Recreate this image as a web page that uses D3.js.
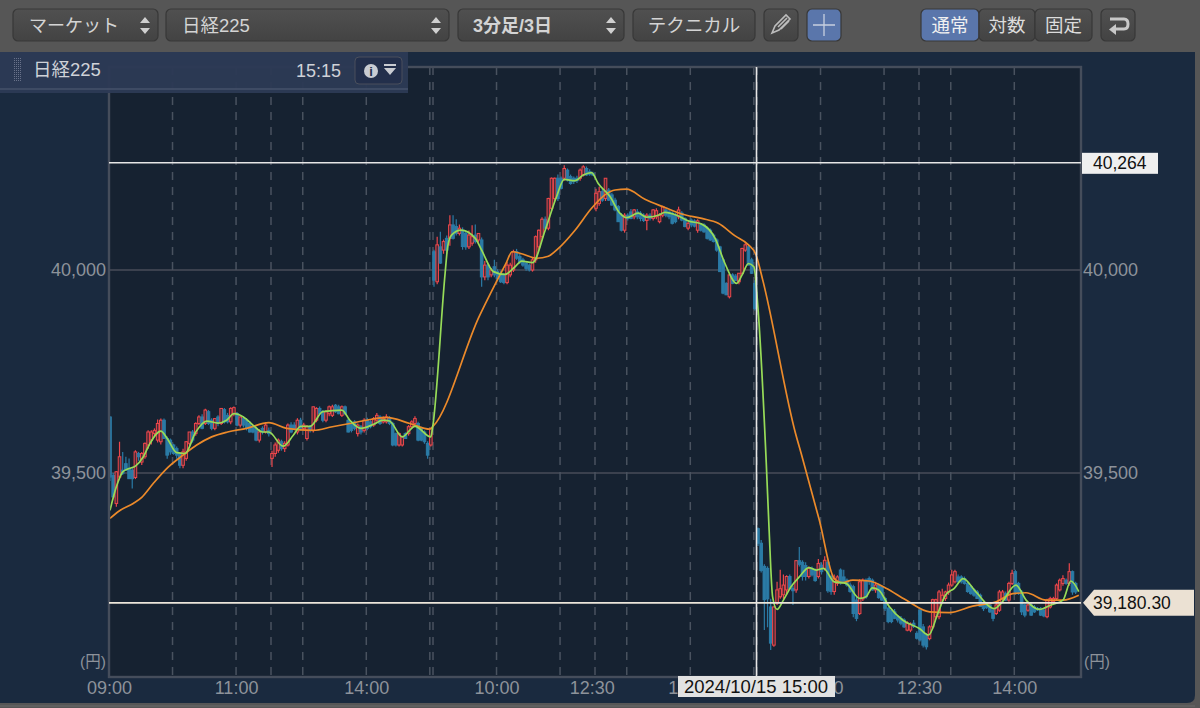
<!DOCTYPE html>
<html>
  <head>
    <meta charset="utf-8">
    <title>日経225</title>
    <script src="https://d3js.org/d3.v7.min.js"></script>
    <style>
      html, body { margin: 0; padding: 0; background: #565656; overflow: hidden; }
      svg { display: block; }
      text { font-family: "Liberation Sans", "Noto Sans CJK JP", sans-serif; }
      .tick line, .domain { display: none; }
    </style>
  </head>
  <body>
    <svg id="canvas" width="1200" height="708"></svg>
    <script>
      // candles, one row per 3 minute bar: open, high, low, close
      const day1 = [
        [39638,39640,39480,39490],[39494,39500,39440,39441],[39425,39505,39417,39503],[39490,39577,39486,39540],
        [39507,39552,39495,39499],[39523,39540,39505,39507],[39511,39536,39485,39486],[39507,39515,39462,39486],
        [39489,39556,39485,39552],[39548,39552,39530,39540],[39527,39552,39520,39548],[39540,39575,39535,39573],
        [39569,39605,39560,39601],[39581,39605,39570,39601],[39597,39610,39590,39605],[39581,39632,39575,39622],
        [39577,39634,39570,39630],[39630,39634,39585,39585],[39585,39590,39535,39544],[39581,39585,39545,39552],
        [39569,39572,39545,39548],[39560,39565,39535,39544],[39548,39552,39512,39519],[39519,39560,39512,39552],
        [39536,39578,39530,39577],[39573,39600,39568,39601],[39601,39606,39575,39581],[39597,39625,39592,39622],
        [39622,39642,39618,39638],[39638,39645,39608,39610],[39622,39658,39618,39655],[39651,39655,39618,39622],
        [39630,39635,39605,39610],[39610,39635,39605,39634],[39638,39642,39615,39622],[39622,39660,39618,39659],
        [39656,39660,39622,39626],[39642,39648,39622,39626],[39626,39662,39620,39659],[39646,39664,39640,39661],
        [39646,39650,39615,39618],[39618,39640,39612,39638],[39634,39640,39612,39618],[39630,39635,39605,39610],
        [39622,39628,39600,39601],[39614,39618,39598,39601],[39610,39614,39578,39581],[39581,39608,39575,39601],
        [39610,39615,39595,39601],[39601,39625,39597,39618],[39605,39612,39590,39597],[39536,39555,39515,39548],
        [39548,39575,39540,39569],[39556,39585,39550,39581],[39577,39582,39555,39560],[39560,39578,39552,39573],
        [39569,39622,39565,39618],[39618,39625,39598,39601],[39618,39625,39605,39610],[39601,39635,39595,39630],
        [39630,39636,39605,39610],[39610,39624,39605,39618],[39585,39618,39580,39614],[39614,39618,39600,39605],
        [39605,39664,39600,39663],[39630,39662,39625,39659],[39659,39664,39645,39646],[39651,39655,39625,39630],
        [39630,39655,39625,39651],[39646,39666,39640,39663],[39642,39668,39638,39663],[39667,39670,39648,39651],
        [39663,39668,39645,39646],[39642,39666,39638,39663],[39663,39666,39642,39646],[39630,39634,39600,39601],
        [39622,39626,39600,39605],[39626,39630,39605,39610],[39597,39622,39590,39618],[39614,39618,39595,39601],
        [39605,39635,39600,39630],[39630,39636,39605,39610],[39626,39630,39610,39614],[39618,39638,39614,39634],
        [39630,39648,39626,39642],[39638,39642,39618,39622],[39626,39640,39622,39634],[39626,39645,39622,39638],
        [39634,39640,39618,39622],[39622,39626,39566,39569],[39597,39600,39565,39569],[39569,39600,39565,39597],
        [39569,39592,39565,39589],[39597,39600,39585,39585],[39597,39618,39592,39614],[39614,39630,39610,39626],
        [39622,39640,39618,39634],[39622,39626,39578,39581],[39610,39614,39578,39581],[39601,39605,39572,39577],
        [39573,39578,39535,39544],[39569,39610,39565,39610]
      ];
      const day2 = [
        [40045,40050,39959,39975],[39971,40082,39965,40062],[40057,40094,40015,40017],[40049,40075,40040,40070],
        [40078,40085,40040,40049],[40078,40135,40060,40111],[40111,40135,40075,40078],[40107,40125,40085,40090],
        [40090,40112,40085,40103],[40098,40105,40050,40058],[40090,40095,40050,40057],[40057,40097,40052,40086],
        [40066,40110,40060,40082],[40086,40112,40065,40070],[40074,40090,40068,40090],[40074,40080,39959,39983],
        [39983,40022,39975,40012],[40012,40018,39975,39983],[39988,40005,39982,40000],[40008,40025,39982,39988],
        [39996,40002,39975,39979],[39992,39998,39968,39971],[39988,39992,39965,39969],[39969,40020,39965,40012],
        [39988,40018,39982,40012],[40000,40050,39995,40045],[40045,40052,40025,40029],[40033,40040,40015,40020],
        [40025,40030,40008,40012],[40016,40020,39998,40004],[40012,40016,39996,40000],[40000,40030,39996,40025],
        [40025,40085,40018,40082],[40057,40100,40050,40098],[40082,40130,40075,40125],[40125,40132,40100,40103],
        [40103,40178,40098,40176],[40152,40228,40145,40226],[40176,40228,40170,40226],[40226,40235,40170,40176],
        [40226,40230,40198,40201],[40226,40258,40220,40250],[40246,40250,40218,40222],[40230,40235,40210,40213],
        [40226,40230,40212,40218],[40226,40232,40214,40220],[40226,40250,40220,40246],[40234,40258,40230,40254],
        [40250,40255,40232,40234],[40242,40248,40232,40236],[40238,40242,40232,40234],[40152,40200,40145,40189],
        [40164,40205,40158,40193],[40193,40200,40168,40172],[40176,40226,40170,40226],[40197,40202,40170,40172],
        [40185,40190,40158,40160],[40172,40178,40145,40148],[40156,40160,40118,40119],[40135,40140,40095,40098],
        [40098,40140,40092,40135],[40135,40140,40122,40127],[40143,40150,40125,40127],[40131,40150,40125,40148],
        [40143,40150,40125,40131],[40140,40145,40120,40127],[40135,40140,40118,40122],[40122,40140,40098,40135],
        [40135,40140,40122,40127],[40127,40150,40122,40148],[40131,40152,40125,40146],[40119,40140,40115,40135],
        [40135,40158,40130,40156],[40148,40152,40130,40135],[40143,40148,40125,40131],[40140,40144,40112,40115],
        [40135,40140,40115,40119],[40131,40156,40125,40148],[40140,40145,40120,40123],[40127,40130,40105,40107],
        [40103,40118,40098,40115],[40123,40127,40105,40111],[40121,40125,40105,40108],[40098,40125,40092,40121],
        [40111,40115,40095,40098],[40111,40115,40092,40094],[40103,40107,40075,40078],[40098,40102,40072,40074],
        [40086,40090,40068,40070],[40074,40078,40045,40049],[40057,40060,39995,39996],[40025,40028,39940,39943],
        [39967,39970,39938,39939],[39934,39990,39930,39988],[39988,39992,39965,39967],[39985,39990,39972,39974],
        [39971,39992,39965,39992],[39992,40055,39988,40053],[40049,40066,40045,40062],[40057,40062,40012,40012],
        [40025,40030,39990,39992],[39967,39975,39900,39905]
      ];
      const day3 = [
        [39363,39366,39320,39327],[39327,39335,39255,39260],[39270,39275,39113,39188],[39265,39270,39120,39190],
        [39170,39190,39064,39081],[39076,39172,39072,39170],[39180,39232,39175,39212],[39195,39262,39190,39215],
        [39200,39250,39190,39224],[39212,39248,39200,39245],[39245,39250,39212,39216],[39216,39222,39175,39210],
        [39212,39285,39205,39284],[39284,39318,39270,39275],[39280,39285,39235,39245],[39272,39280,39235,39245],
        [39245,39270,39240,39265],[39265,39270,39245,39249],[39260,39265,39232,39235],[39245,39288,39240,39277],
        [39273,39280,39250,39257],[39265,39295,39260,39285],[39280,39285,39205,39210],[39245,39250,39200,39208],
        [39208,39250,39200,39240],[39228,39248,39222,39244],[39261,39265,39225,39229],[39244,39262,39230,39232],
        [39236,39240,39220,39224],[39224,39230,39205,39208],[39220,39225,39145,39154],[39187,39195,39135,39142],
        [39154,39238,39150,39232],[39190,39240,39185,39236],[39236,39240,39190,39195],[39240,39245,39225,39232],
        [39236,39240,39210,39212],[39212,39232,39205,39224],[39224,39228,39190,39193],[39220,39222,39185,39187],
        [39191,39195,39160,39167],[39167,39170,39130,39134],[39162,39165,39130,39134],[39158,39165,39140,39142],
        [39146,39150,39132,39138],[39142,39148,39125,39130],[39138,39142,39118,39121],[39113,39135,39110,39130],
        [39113,39132,39108,39128],[39130,39138,39118,39122],[39105,39110,39090,39093],[39162,39166,39085,39089],
        [39121,39128,39070,39076],[39100,39105,39065,39072],[39092,39125,39088,39121],[39121,39190,39115,39188],
        [39146,39190,39140,39188],[39146,39212,39140,39207],[39187,39215,39180,39199],[39191,39210,39185,39207],
        [39207,39230,39200,39224],[39224,39262,39220,39249],[39232,39262,39228,39257],[39244,39250,39230,39232],
        [39244,39248,39228,39232],[39240,39245,39225,39228],[39228,39232,39205,39208],[39220,39224,39200,39203],
        [39212,39216,39195,39199],[39207,39212,39190,39191],[39199,39203,39170,39171],[39179,39182,39160,39166],
        [39175,39180,39165,39169],[39175,39178,39155,39158],[39162,39165,39135,39142],[39154,39180,39150,39175],
        [39162,39212,39158,39207],[39191,39212,39186,39207],[39203,39208,39185,39187],[39187,39232,39183,39228],
        [39228,39262,39224,39253],[39257,39262,39200,39207],[39228,39232,39200,39203],[39207,39212,39150,39158],
        [39175,39178,39145,39150],[39162,39178,39158,39175],[39175,39180,39148,39150],[39170,39175,39155,39158],
        [39166,39170,39160,39163],[39166,39170,39148,39150],[39162,39165,39145,39148],[39146,39190,39142,39187],
        [39170,39195,39166,39191],[39183,39195,39178,39191],[39191,39228,39186,39224],[39212,39240,39208,39236],
        [39228,39248,39222,39240],[39236,39240,39225,39228],[39228,39278,39222,39257],[39257,39260,39200,39207],
        [39228,39232,39202,39207]
      ];

      // moving averages: bar number, value
      const fastMa = [
        [0,39408],[2,39466],[4,39503],[6,39511],[8,39517],[10.5,39540],[12.6,39573],[16,39603],[18,39585],[21,39550],
        [23.6,39548],[27,39601],[30.4,39628],[34,39623],[36.7,39630],[39,39646],[42,39638],[45,39618],[48,39601],[50,39601],
        [54.5,39566],[57.7,39593],[60,39615],[63,39615],[67,39651],[73,39655],[75.5,39630],[79,39610],[83,39620],[86,39630],
        [88,39628],[92,39589],[96,39615],[101,39589],[101.6,39614],[105.5,39992],[106.3,40057],[107.5,40086],[110.5,40098],[115,40078],[117,40049],
        [120.7,39996],[124.3,39989],[127.5,40008],[129.6,40022],[133,40018],[137,40098],[140.6,40181],[143,40223],[146.4,40220],[149,40234],
        [151.6,40240],[153.7,40213],[157.4,40181],[160.5,40140],[162.6,40129],[166.3,40140],[169,40130],[172.6,40135],[174.7,40142],[178.4,40135],
        [182,40121],[186.3,40113],[190.5,40078],[193.6,40016],[197.3,39967],[199,39988],[201,40016],[202.7,40008],[204,39905],[206.6,39525],
        [207.5,39360],[208.6,39195],[210,39164],[212,39187],[214.4,39220],[217,39244],[220,39267],[222.3,39261],[224.6,39265],[228,39232],
        [231.7,39228],[236,39191],[238,39195],[240,39217],[242,39212],[245.3,39171],[249.5,39138],[254.8,39117],[257.7,39101],[260.6,39154],
        [263,39199],[265.8,39216],[268.6,39240],[272.6,39207],[278.4,39166],[280.5,39179],[285.2,39224],[288.4,39187],[292.6,39164],[296.2,39175],
        [300,39187],[302.5,39234],[305,39208]
      ];
      const slowMa = [
        [0,39388],[3,39407],[7.3,39425],[10,39440],[13.6,39474],[18.4,39515],[23,39544],[27.3,39569],[32,39589],[37,39601],
        [43,39610],[50,39624],[55.6,39610],[64,39605],[70,39614],[75.5,39622],[80.8,39630],[87,39637],[94.4,39622],[100.7,39608],
        [101.6,39614],[116.2,39885],[124.7,40017],[126.6,40045],[129.6,40040],[134.3,40029],[138,40034],[141,40052],
        [146.4,40098],[151.6,40152],[155.8,40185],[159,40197],[162.6,40199],[168.4,40174],[174.7,40154],[180,40138],[186.3,40127],[191.5,40115],
        [196.8,40084],[201,40062],[203.4,40037],[205.5,39975],[215.8,39598],[217.6,39548],[223.3,39384],[228,39240],[230.6,39230],[233.8,39236],[239,39234],
        [244.3,39216],[250.6,39187],[258,39158],[264.2,39156],[271.6,39172],[279,39183],[284.2,39203],[288.4,39205],[294.7,39187],[300,39187],
        [305,39199]
      ];

      const yTicks = [39500, 40000];
      const gridBars = [20, 40, 51, 61, 81, 101, 102, 122, 142, 153, 163, 183, 203, 204, 224, 244, 255, 265, 285];
      const xTickBars = [0, 40, 81, 122, 152, 183, 224, 255, 285];
      const xTickLabels = ["09:00", "11:00", "14:00", "10:00", "12:30", "14:00", "10:00", "12:30", "14:00"];
      const dayHigh = 40264;
      const lastPrice = 39180.30;
      const crossBar = 204;
      const crossLabel = "2024/10/15 15:00";

      const selects = [
        {label: "マーケット", x0: 13, x1: 158, size: 18},
        {label: "日経225", x0: 166, x1: 449, size: 18.5},
        {label: "3分足/3日", x0: 458, x1: 624, size: 18, bold: true}
      ];
      const modes = [
        {label: "通常", x0: 921, x1: 979, on: true},
        {label: "対数", x0: 979, x1: 1035},
        {label: "固定", x0: 1035, x1: 1092}
      ];

      const candles = day1.concat(day2, day3);
      const plotLeft = 109, plotRight = 1081, plotTop = 67, plotBottom = 677;

      const x = d3.scaleLinear().domain([0, 306]).range([plotLeft, plotRight]);
      const y = d3.scaleLinear().domain([39500, 40000]).range([473, 270]);

      const canvas = d3.select("#canvas");
      const defs = canvas.append("defs");

      const btnGrad = defs.append("linearGradient").attr("id", "btn")
        .attr("x1", 0).attr("y1", 0).attr("x2", 0).attr("y2", 1);
      btnGrad.append("stop").attr("offset", "0%").attr("stop-color", "#505050");
      btnGrad.append("stop").attr("offset", "100%").attr("stop-color", "#434343");

      // window
      canvas.append("rect").attr("width", 1200).attr("height", 708).attr("fill", "#565656");
      canvas.append("path")
        .attr("d", "M0,52H1195V695Q1195,703 1187,703H0Z")
        .attr("fill", "#1a2a3f");

      // plot
      canvas.append("rect")
        .attr("x", plotLeft).attr("y", plotTop)
        .attr("width", plotRight - plotLeft).attr("height", plotBottom - plotTop)
        .attr("fill", "#162231");

      const grid = canvas.append("g");
      grid.selectAll(".h")
        .data(yTicks)
        .enter().append("line")
          .attr("x1", plotLeft).attr("x2", plotRight)
          .attr("y1", d => y(d)).attr("y2", d => y(d))
          .attr("stroke", "#484d58").attr("stroke-width", 1.4);
      grid.selectAll(".v")
        .data(gridBars)
        .enter().append("line")
          .attr("x1", d => x(d)).attr("x2", d => x(d))
          .attr("y1", plotTop).attr("y2", plotBottom)
          .attr("stroke", "#49525f").attr("stroke-width", 1.5)
          .attr("stroke-dasharray", "8,7");

      // candles
      const bars = canvas.append("g")
        .selectAll("g")
        .data(candles)
        .enter().append("g")
          .attr("stroke", d => d[3] >= d[0] ? "#ee474b" : "#2b7ba6");
      bars.append("line")
        .attr("x1", (d, i) => x(i) + 1).attr("x2", (d, i) => x(i) + 1)
        .attr("y1", d => y(d[1])).attr("y2", d => y(d[2]))
        .attr("stroke-width", 1.2);
      bars.append("rect")
        .attr("x", (d, i) => x(i) - 0.3)
        .attr("width", 2.6)
        .attr("y", d => y(Math.max(d[0], d[3])))
        .attr("height", d => Math.max(1, Math.abs(y(d[0]) - y(d[3]))))
        .attr("fill", d => d[3] >= d[0] ? "#4a2a36" : "#2b7ba6")
        .attr("stroke-width", 1);

      // moving averages
      const maLine = d3.line()
        .x(d => x(d[0]) + 1)
        .y(d => y(d[1]))
        .curve(d3.curveMonotoneX);
      canvas.append("path").datum(slowMa)
        .attr("d", maLine).attr("fill", "none")
        .attr("stroke", "#ec8a2a").attr("stroke-width", 1.7);
      canvas.append("path").datum(fastMa)
        .attr("d", maLine).attr("fill", "none")
        .attr("stroke", "#97dc58").attr("stroke-width", 1.7);

      // frame
      canvas.append("rect")
        .attr("x", plotLeft).attr("y", plotTop)
        .attr("width", plotRight - plotLeft).attr("height", plotBottom - plotTop)
        .attr("fill", "none").attr("stroke", "#454d5b").attr("stroke-width", 2.4);

      // high, last and crosshair lines
      canvas.append("line")
        .attr("x1", plotLeft).attr("x2", plotRight)
        .attr("y1", y(dayHigh)).attr("y2", y(dayHigh))
        .attr("stroke", "#e6e6e6").attr("stroke-width", 1.6);
      canvas.append("line")
        .attr("x1", plotLeft).attr("x2", plotRight)
        .attr("y1", y(lastPrice)).attr("y2", y(lastPrice))
        .attr("stroke", "#ece6da").attr("stroke-width", 1.8);
      canvas.append("line")
        .attr("x1", x(crossBar) - 0.5).attr("x2", x(crossBar) - 0.5)
        .attr("y1", plotTop).attr("y2", plotBottom)
        .attr("stroke", "#e6e6e6").attr("stroke-width", 1.6);

      // axes
      const tickStyle = function(g) {
        g.selectAll("text")
          .attr("fill", "#8d929a")
          .style("font-size", "18px");
      };
      const priceFormat = d3.format(",");
      canvas.append("g")
        .attr("transform", "translate(" + (plotLeft + 9) + ",0)")
        .call(d3.axisLeft(y).tickValues(yTicks).tickFormat(priceFormat).tickSize(0).tickPadding(12))
        .call(tickStyle);
      canvas.append("g")
        .attr("transform", "translate(" + (plotRight - 7) + ",0)")
        .call(d3.axisRight(y).tickValues(yTicks).tickFormat(priceFormat).tickSize(0).tickPadding(9))
        .call(tickStyle);
      canvas.append("g")
        .attr("transform", "translate(0," + (plotBottom + 4) + ")")
        .call(d3.axisBottom(x).tickValues(xTickBars)
          .tickFormat((d, i) => xTickLabels[i]).tickSize(0).tickPadding(0))
        .call(tickStyle);

      const unit = canvas.append("g").attr("fill", "#8d929a").style("font-size", "15.5px");
      unit.append("text").attr("x", 80).attr("y", 667).text("(円)");
      unit.append("text").attr("x", 1084).attr("y", 667).text("(円)");

      // value tags
      canvas.append("rect")
        .attr("x", 1082).attr("y", y(dayHigh) - 10)
        .attr("width", 76).attr("height", 21)
        .attr("fill", "#efefef");
      canvas.append("text")
        .attr("x", 1093).attr("y", y(dayHigh) + 6)
        .attr("fill", "#111").style("font-size", "17.5px")
        .text(priceFormat(dayHigh));

      const tagY = y(lastPrice);
      canvas.append("path")
        .attr("d", "M1083," + tagY + "L1094," + (tagY - 13) + "H1194V" + (tagY + 13) + "H1094Z")
        .attr("fill", "#ebe1d3");
      canvas.append("text")
        .attr("x", 1093).attr("y", tagY + 6)
        .attr("fill", "#111").style("font-size", "17.5px")
        .text(d3.format(",.2f")(lastPrice));

      canvas.append("rect")
        .attr("x", 678).attr("y", 676)
        .attr("width", 157).attr("height", 21)
        .attr("fill", "#e2e2e2");
      canvas.append("text")
        .attr("x", 756).attr("y", 693)
        .attr("text-anchor", "middle")
        .attr("fill", "#111").style("font-size", "18.5px")
        .text(crossLabel);

      // info panel
      canvas.append("rect")
        .attr("x", 0).attr("y", 52).attr("width", 408).attr("height", 41)
        .attr("fill", "#2c3a55").attr("fill-opacity", 0.97);
      canvas.append("line")
        .attr("x1", 0).attr("x2", 408).attr("y1", 89).attr("y2", 89)
        .attr("stroke", "#46526a").attr("stroke-width", 1.5);
      for (let i = 0; i < 4; i++) {
        for (let j = 0; j < 12; j++) {
          canvas.append("rect")
            .attr("x", 14 + i * 2).attr("y", 58 + j * 2)
            .attr("width", 1).attr("height", 1)
            .attr("fill", "#69728a");
        }
      }
      canvas.append("text")
        .attr("x", 33).attr("y", 76)
        .attr("fill", "#cfd2d8").style("font-size", "18.5px")
        .text("日経225");
      canvas.append("text")
        .attr("x", 341).attr("y", 77)
        .attr("text-anchor", "end")
        .attr("fill", "#cfd2d8").style("font-size", "18px")
        .text("15:15");
      canvas.append("rect")
        .attr("x", 355).attr("y", 57).attr("width", 47).attr("height", 27).attr("rx", 4)
        .attr("fill", "#232f4b").attr("stroke", "#4a4f5c");
      canvas.append("circle")
        .attr("cx", 371).attr("cy", 71).attr("r", 7).attr("fill", "#c9ccd2");
      canvas.append("text")
        .attr("x", 371).attr("y", 76).attr("text-anchor", "middle")
        .attr("fill", "#232f4b").style("font-size", "13px").style("font-weight", "bold")
        .text("i");
      canvas.append("path")
        .attr("d", "M384,64H396V66H384ZM384,68H396L390,75Z").attr("fill", "#c9ccd2");

      // toolbar
      const toolbar = canvas.append("g");
      function button(x0, x1, fill) {
        return toolbar.append("rect")
          .attr("x", x0).attr("y", 9)
          .attr("width", x1 - x0).attr("height", 32).attr("rx", 5)
          .attr("fill", fill || "url(#btn)")
          .attr("stroke", "#383838").attr("stroke-width", 1.2);
      }
      function updown(cx) {
        toolbar.append("path")
          .attr("d", "M" + (cx - 5) + ",23L" + cx + ",17L" + (cx + 5) + ",23Z"
            + "M" + (cx - 5) + ",28L" + cx + ",34L" + (cx + 5) + ",28Z")
          .attr("fill", "#d0d0d0");
      }
      selects.forEach(function(d) {
        button(d.x0, d.x1);
        toolbar.append("text")
          .attr("x", d.x0 + (d.bold ? 15 : 16)).attr("y", 32)
          .attr("fill", "#d4d4d4")
          .style("font-size", d.size + "px")
          .style("font-weight", d.bold ? "bold" : "normal")
          .text(d.label);
        updown(d.x1 - 13);
      });

      button(633, 755);
      toolbar.append("text")
        .attr("x", 694).attr("y", 32).attr("text-anchor", "middle")
        .attr("fill", "#d4d4d4").style("font-size", "18.5px")
        .text("テクニカル");

      button(764, 798);
      toolbar.append("path")
        .attr("d", "M772,33L775,26L786,15L790,19L779,30ZM778,27L787,18M781,29L789,21")
        .attr("fill", "none").attr("stroke", "#bdbdbd").attr("stroke-width", 1.6);

      button(807, 841, "#5a76ab");
      toolbar.append("path")
        .attr("d", "M824,14V36M813,25H835")
        .attr("stroke", "#c7cfdf").attr("stroke-width", 1.3);

      modes.forEach(function(d) {
        button(d.x0, d.x1, d.on ? "#5a76ab" : null);
        toolbar.append("text")
          .attr("x", (d.x0 + d.x1) / 2).attr("y", 32).attr("text-anchor", "middle")
          .attr("fill", d.on ? "#f0f0f0" : "#dcdcdc").style("font-size", "18.5px")
          .text(d.label);
      });

      button(1101, 1135);
      toolbar.append("path")
        .attr("d", "M1110,19H1124Q1128,19 1128,24Q1128,29 1124,29H1115")
        .attr("fill", "none").attr("stroke", "#c8c8c8").attr("stroke-width", 3);
      toolbar.append("path")
        .attr("d", "M1116,24V35L1109,29.5Z").attr("fill", "#c8c8c8");

      // bottom edge
      canvas.append("line")
        .attr("x1", 0).attr("x2", 1195).attr("y1", 706).attr("y2", 706)
        .attr("stroke", "#6a6a6a");
    </script>
  </body>
</html>
